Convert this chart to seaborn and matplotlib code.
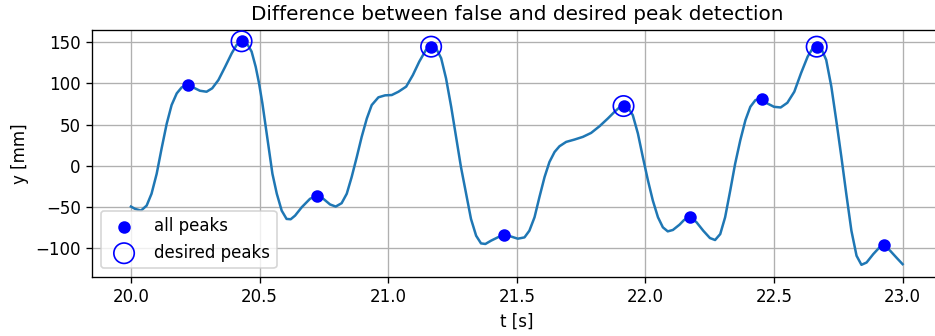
import matplotlib
matplotlib.use("Agg")
import matplotlib.pyplot as plt
import seaborn as sns

# Measured displacement signal
t = [20.000, 20.016, 20.039, 20.061, 20.080, 20.100, 20.119, 20.139, 20.158, 20.178,
     20.197, 20.220, 20.242, 20.268, 20.294, 20.316, 20.340, 20.366, 20.392, 20.411,
     20.430, 20.450, 20.469, 20.485, 20.498, 20.511, 20.524, 20.537, 20.550, 20.567,
     20.586, 20.605, 20.621, 20.638, 20.664, 20.696, 20.725, 20.748, 20.774, 20.796,
     20.819, 20.839, 20.858, 20.878, 20.897, 20.917, 20.936, 20.962, 20.988, 21.014,
     21.040, 21.070, 21.096, 21.121, 21.147, 21.167, 21.186, 21.206, 21.225, 21.245,
     21.264, 21.283, 21.303, 21.322, 21.342, 21.361, 21.378, 21.400, 21.426, 21.452,
     21.478, 21.504, 21.530, 21.549, 21.569, 21.588, 21.608, 21.627, 21.647, 21.666,
     21.692, 21.724, 21.757, 21.789, 21.822, 21.854, 21.880, 21.899, 21.915, 21.932,
     21.951, 21.971, 21.990, 22.010, 22.029, 22.049, 22.068, 22.087, 22.107, 22.133,
     22.150, 22.173, 22.199, 22.225, 22.251, 22.271, 22.291, 22.310, 22.330, 22.349,
     22.369, 22.389, 22.408, 22.428, 22.452, 22.474, 22.500, 22.526, 22.552, 22.579,
     22.605, 22.631, 22.651, 22.666, 22.683, 22.703, 22.723, 22.742, 22.762, 22.781,
     22.801, 22.821, 22.840, 22.860, 22.886, 22.910, 22.929, 22.952, 22.978, 23.000]
y = [-49.6, -52.4, -54.5, -48.4, -34.0, -9.8, 20.7, 51.0, 73.6, 87.8,
     95.0, 98.0, 95.0, 91.0, 89.8, 94.0, 104.0, 120.0, 136.6, 146.7,
     151.0, 148.8, 138.6, 120.0, 100.0, 75.6, 47.0, 18.7, -9.8, -34.0,
     -54.5, -64.6, -65.0, -60.6, -50.4, -40.2, -36.2, -40.2, -47.0, -49.6,
     -45.5, -34.0, -13.8, 10.6, 35.0, 57.3, 73.6, 83.0, 85.4, 85.8,
     89.8, 96.0, 110.0, 126.4, 140.6, 144.5, 142.7, 130.5, 106.0, 71.5,
     35.0, -1.6, -34.0, -64.6, -85.0, -94.3, -95.0, -91.0, -87.0, -83.7,
     -86.0, -88.6, -87.0, -78.9, -62.6, -38.2, -13.8, 4.5, 16.7, 23.6,
     28.9, 31.7, 35.0, 39.8, 48.0, 57.3, 65.4, 70.7, 72.4, 70.7,
     61.4, 39.0, 10.6, -17.9, -42.3, -62.6, -74.8, -79.7, -78.0, -71.5,
     -66.0, -61.8, -68.7, -78.9, -87.8, -90.2, -83.0, -62.6, -30.0, 2.4,
     30.9, 55.3, 71.5, 79.7, 80.9, 75.6, 71.5, 70.7, 76.4, 89.8,
     112.2, 132.5, 142.7, 144.5, 142.7, 128.5, 96.0, 55.3, 10.6, -34.0,
     -78.9, -109.3, -120.3, -117.5, -107.3, -99.2, -96.3, -103.3, -112.2, -119.5]

# Every local maximum found by the detector
peak_t = [20.220, 20.430, 20.725, 21.167, 21.452, 21.915, 22.173, 22.452, 22.666, 22.929]
peak_y = [98.0, 151.0, -36.2, 144.5, -83.7, 72.4, -61.8, 80.9, 144.5, -96.3]

# The maxima that should have been reported
desired_t = [20.430, 21.167, 21.915, 22.666]
desired_y = [151.0, 144.5, 72.4, 144.5]

fig = plt.figure(figsize=(935 / 120, 336 / 120), dpi=120)
ax = fig.add_axes([0.0988, 0.1768, 0.9078, 0.7336])

sns.lineplot(x=t, y=y, ax=ax, color="C0", linewidth=1.5)
sns.scatterplot(x=peak_t, y=peak_y, ax=ax, color="b", edgecolor="b",
                s=36, linewidth=1.5, label="all peaks", zorder=3)
sns.scatterplot(x=desired_t, y=desired_y, ax=ax, facecolor="none", edgecolor="b",
                s=150, linewidth=1.0, label="desired peaks", zorder=4)

ax.set_xlim(19.85, 23.15)
ax.set_ylim(-134.6, 164.6)
ax.set_title("Difference between false and desired peak detection")
ax.set_xlabel("t [s]")
ax.set_ylabel("y [mm]")
ax.grid(True)
ax.legend(loc="lower left")

fig.savefig("out.png", dpi=120)
